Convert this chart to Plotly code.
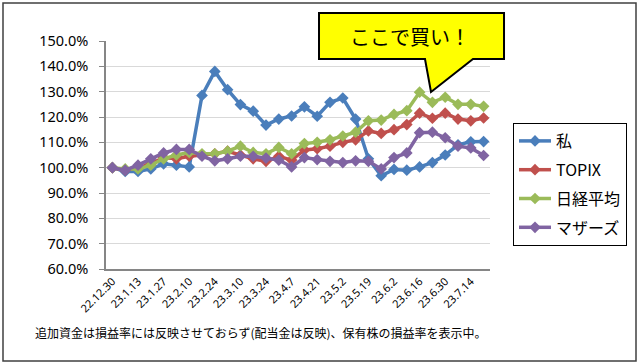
import plotly.graph_objects as go

dates = ["22.12.30", "23.1.6", "23.1.13", "23.1.20", "23.1.27", "23.2.3", "23.2.10", "23.2.17",
         "23.2.24", "23.3.3", "23.3.10", "23.3.17", "23.3.24", "23.3.31", "23.4.7", "23.4.14",
         "23.4.21", "23.4.28", "23.5.2", "23.5.12", "23.5.19", "23.5.26", "23.6.2", "23.6.9",
         "23.6.16", "23.6.23", "23.6.30", "23.7.7", "23.7.14", "23.7.21"]
tick_labels = ["22.12.30", "23.1.13", "23.1.27", "23.2.10", "23.2.24", "23.3.10", "23.3.24",
               "23.4.7", "23.4.21", "23.5.2", "23.5.19", "23.6.2", "23.6.16", "23.6.30", "23.7.14"]

watashi = [100, 98.5, 98.5, 99.5, 101.5, 101, 100.3, 128.5, 138, 130.8, 124.9, 122.3, 116.8, 119.2,
           120.4, 124, 120.3, 125.8, 127.5, 119.2, 103.5, 96.8, 99.3, 99, 100.3, 102, 105, 109, 110.2, 110.3]
topix = [100, 99, 100, 101.5, 104, 103.5, 104.5, 105, 105.5, 106.5, 105, 103.5, 102.5, 104.5,
         103, 107, 107.5, 108.5, 110, 111, 114.5, 113.5, 115, 117, 121.5, 119.5, 121.5, 119.2, 118.5, 119.6]
nikkei = [100, 99.5, 99.5, 101, 103.5, 105, 106, 105.5, 105.5, 106.5, 108.5, 106, 105.5, 108,
          105.5, 109.5, 110, 111, 112.5, 114, 118.5, 118.8, 121, 122.5, 129.8, 125.8, 127.8, 125, 125, 124.2]
mothers = [100, 99, 101, 103.5, 105.8, 107.2, 107.2, 104.5, 102.7, 103.5, 104.5, 104.5, 103.8, 103,
           100.3, 104, 103.2, 102.5, 102, 102.7, 102.5, 99.5, 104, 105.8, 113.8, 114, 111.8, 108.5, 107.8, 104.8]

series = [("私", watashi, "#4A7EBB"), ("TOPIX", topix, "#C0504D"),
          ("日経平均", nikkei, "#9BBB59"), ("マザーズ", mothers, "#8064A2")]

fig = go.Figure()
for name, vals, col in series:
    fig.add_trace(go.Scatter(x=dates, y=vals, name=name, mode="lines+markers",
                             legendgroup=name,
                             line=dict(color=col, width=3.5),
                             marker=dict(symbol="diamond", size=9, color=col)))

L, R, T, B = 106, 490, 41, 269
W, H = 640, 364
def px(x): return (x - L) / (R - L)
def py(y): return (B - y) / (B - T)

callout = [(319, 13), (504, 13), (504, 59), (473, 59), (431, 92), (425, 59), (319, 59)]
path = "M " + " L ".join(f"{px(x):.4f},{py(y):.4f}" for x, y in callout) + " Z"

fig.update_layout(
    width=W, height=H,
    margin=dict(l=L, r=W - R, t=T, b=H - B, autoexpand=False),
    paper_bgcolor="white", plot_bgcolor="white",
    font=dict(family="Noto Sans, Noto Sans CJK JP", color="#000000"),
    showlegend=True,
    legend=dict(x=px(513), y=py(123), xanchor="left", yanchor="top",
                bordercolor="#000000", borderwidth=1, bgcolor="white",
                font=dict(size=16, family="Noto Sans CJK JP"), itemwidth=32,
                tracegroupgap=5),
    xaxis=dict(type="category", range=[-0.5, 29.5], tickmode="array",
               tickvals=tick_labels, ticktext=tick_labels, tickangle=-45,
               tickfont=dict(size=11), showgrid=False, showline=True,
               linecolor="#868686", linewidth=1.5, ticks="", zeroline=False),
    yaxis=dict(range=[60, 150], dtick=10, tick0=60, tickformat=".1f", ticksuffix="%",
               tickfont=dict(size=14.5), showgrid=True, gridcolor="#D9D9D9", gridwidth=1,
               showline=True, linecolor="#868686", linewidth=1.5, ticks="outside",
               ticklen=5, tickcolor="#868686", zeroline=False, ticklabelstandoff=8),
    shapes=[
        dict(type="rect", xref="paper", yref="paper", x0=px(3), x1=px(636), y0=py(361), y1=py(3),
             line=dict(color="#404040", width=1.5), fillcolor="rgba(0,0,0,0)", layer="below"),
        dict(type="path", xref="paper", yref="paper", path=path,
             fillcolor="#FFFF00", line=dict(color="#000000", width=2), layer="above"),
    ],
    annotations=[
        dict(text="ここで買い！", xref="paper", yref="paper", x=px(410), y=py(37),
             xanchor="center", yanchor="middle",
             showarrow=False, font=dict(size=20, family="Noto Sans CJK JP", color="#000000")),
        dict(text="追加資金は損益率には反映させておらず(配当金は反映)、保有株の損益率を表示中。",
             xref="paper", yref="paper", x=px(261), y=py(332), xanchor="center", yanchor="middle",
             showarrow=False,
             font=dict(size=12, family="Noto Sans CJK JP", color="#000000")),
    ],
)

fig.write_html("out.html", config={"displayModeBar": False},
               post_script="document.body.style.margin='0px';document.body.style.overflow='hidden';")
